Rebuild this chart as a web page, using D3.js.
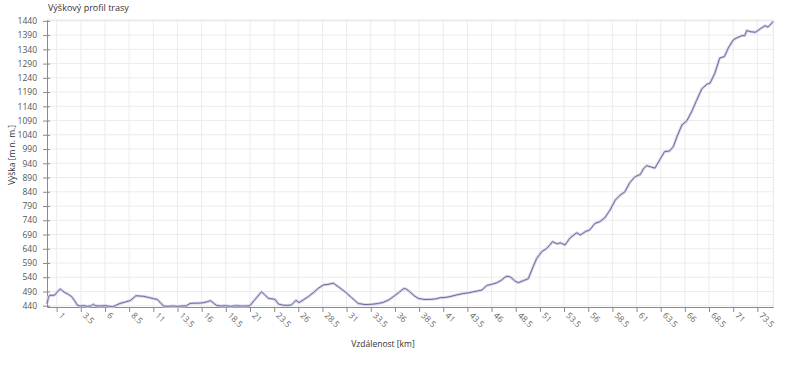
<!DOCTYPE html>
<html><head><meta charset="utf-8">
<script src="https://cdn.jsdelivr.net/npm/d3@7"></script>
<style>
html,body{margin:0;padding:0;background:#fff;}
svg{display:block;font-family:"Open Sans",sans-serif;}
</style></head>
<body><svg id="c" width="800" height="367"></svg>
<script>
const distanceKm = [0,0.15,0.3,0.6,0.85,1.1,1.38,1.6,1.86,2.2,2.55,2.85,3.14,3.4,3.8,4.2,4.6,4.8,5.0,5.5,6.0,6.5,6.75,7.1,7.55,8.1,8.6,8.9,9.2,9.6,10.0,10.5,11.0,11.4,11.7,12.05,12.5,13.0,13.5,14.0,14.45,14.8,15.3,15.8,16.2,16.6,16.9,17.2,17.55,18.0,18.5,19.0,19.5,20.0,20.5,21.0,21.5,22.2,22.5,22.9,23.3,23.6,23.94,24.4,24.9,25.3,25.77,26.07,26.5,27.04,27.6,28.07,28.6,29.1,29.63,30.2,30.84,31.5,32.2,32.9,33.6,34.3,34.8,35.3,35.8,36.35,36.9,37.1,37.5,38.0,38.4,39.0,39.6,40.2,40.7,41.2,41.7,42.4,43.1,43.6,44.1,44.6,45.0,45.5,46.0,46.5,47.05,47.3,47.6,48.0,48.4,48.77,49.3,49.8,50.3,50.67,51.2,51.7,52.0,52.3,52.8,53.1,53.6,54.1,54.8,55.2,55.7,56.15,56.7,57.2,57.7,58.26,58.8,59.3,59.8,60.3,60.85,61.4,61.7,62.05,62.4,62.9,63.4,63.9,64.4,64.8,65.2,65.7,66.2,66.7,67.2,67.75,68.3,68.6,69.1,69.6,70.1,70.5,71.0,71.3,71.9,72.2,72.4,72.75,73.3,73.8,74.3,74.6,75.15];
const elevationM = [446,470,477,476,479,490,499,492,486,480,472,458,442,439,440,438,440,445,440,439,440,438,436,441,448,453,458,466,475,474,473,469,465,462,452,439,438,439,438,439,440,448,449,449,451,454,458,450,441,439,440,438,440,439,439,440,461,489,479,466,464,462,446,442,441,443,459,451,460,472,487,501,513,515,519,505,489,469,448,444,445,448,452,459,471,485,500,500,490,475,466,462,462,464,468,469,472,478,483,485,489,492,495,511,515,520,530,538,544,540,527,521,528,535,577,606,630,641,652,665,657,661,653,677,696,688,700,706,729,735,748,776,811,828,840,872,893,901,920,932,928,923,952,981,983,998,1035,1075,1089,1121,1160,1201,1218,1221,1256,1309,1315,1345,1373,1379,1388,1388,1406,1402,1400,1412,1423,1418,1438];
const xTicks = [1,3.5,6,8.5,11,13.5,16,18.5,21,23.5,26,28.5,31,33.5,36,38.5,41,43.5,46,48.5,51,53.5,56,58.5,61,63.5,66,68.5,71,73.5];
const yTicks = [440,490,540,590,640,690,740,790,840,890,940,990,1040,1090,1140,1190,1240,1290,1340,1390,1440];
const titleText = "Výškový profil trasy";
const xLabel = "Vzdálenost [km]";
const yLabel = "Výška [m n. m.]";

const data = distanceKm.map((d,i)=>({x:d,y:elevationM[i]}));
const svg = d3.select("#c");
const L=47, R=773.3, T=20, B=307;
const x = d3.scaleLinear().domain([0,75.15]).range([L,R]);
const y = d3.scaleLinear().domain([435.5,1443]).range([B,T]);

// grid
const g = svg.append("g");
g.selectAll(".vg").data(xTicks).join("line")
  .attr("x1",d=>x(d)).attr("x2",d=>x(d)).attr("y1",T).attr("y2",B)
  .attr("stroke","#ececec").attr("stroke-width",1);
g.selectAll(".hg").data(yTicks).join("line")
  .attr("x1",L).attr("x2",R).attr("y1",d=>y(d)).attr("y2",d=>y(d))
  .attr("stroke","#ececec").attr("stroke-width",1);
g.append("line").attr("x1",R).attr("x2",R).attr("y1",T).attr("y2",B).attr("stroke","#e6e6e6");
g.append("line").attr("x1",L).attr("x2",R).attr("y1",T).attr("y2",T).attr("stroke","#e6e6e6");

// axes
const xAxis = d3.axisBottom(x).tickValues(xTicks).tickSize(5).tickSizeOuter(0).tickFormat(d=>String(d));
const xa = svg.append("g").attr("transform",`translate(0,${B})`).call(xAxis);
xa.select(".domain").attr("stroke","#8a8a8a");
xa.selectAll(".tick line").attr("stroke","#8a8a8a");
xa.selectAll(".tick text").attr("fill","#666").attr("font-size","8.5px").attr("font-family","Open Sans, sans-serif")
  .attr("text-anchor","start").attr("dy",null).attr("y",0)
  .attr("transform","translate(1,9) rotate(45)");

const yAxis = d3.axisLeft(y).tickValues(yTicks).tickSize(4).tickSizeOuter(0).tickFormat(d=>String(d));
const ya = svg.append("g").attr("transform",`translate(${L},0)`).call(yAxis);
ya.select(".domain").attr("stroke","#8a8a8a");
ya.selectAll(".tick line").attr("stroke","#8a8a8a").attr("x2",3).attr("x1",-4);
ya.selectAll(".tick text").attr("fill","#555").attr("font-size","8.5px").attr("font-family","Open Sans, sans-serif").attr("x",-10);

// line
const line = d3.line().x(d=>x(d.x)).y(d=>y(d.y));
svg.append("path").datum(data).attr("d",line).attr("fill","none")
  .attr("stroke","#d2d0e6").attr("stroke-width",2.8).attr("stroke-linejoin","round");
svg.append("path").datum(data).attr("d",line).attr("fill","none")
  .attr("stroke","#6e6c9c").attr("stroke-width",1).attr("stroke-linejoin","round");

// labels
svg.append("text").attr("x",48).attr("y",11).attr("font-size","9px").attr("fill","#333").text(titleText);
svg.append("text").attr("x",383).attr("y",347).attr("text-anchor","middle").attr("font-size","8.5px").attr("fill","#333").text(xLabel);
svg.append("text").attr("transform","translate(15,155) rotate(-90)").attr("text-anchor","middle").attr("font-size","8.5px").attr("fill","#333").text(yLabel);
</script></body></html>
